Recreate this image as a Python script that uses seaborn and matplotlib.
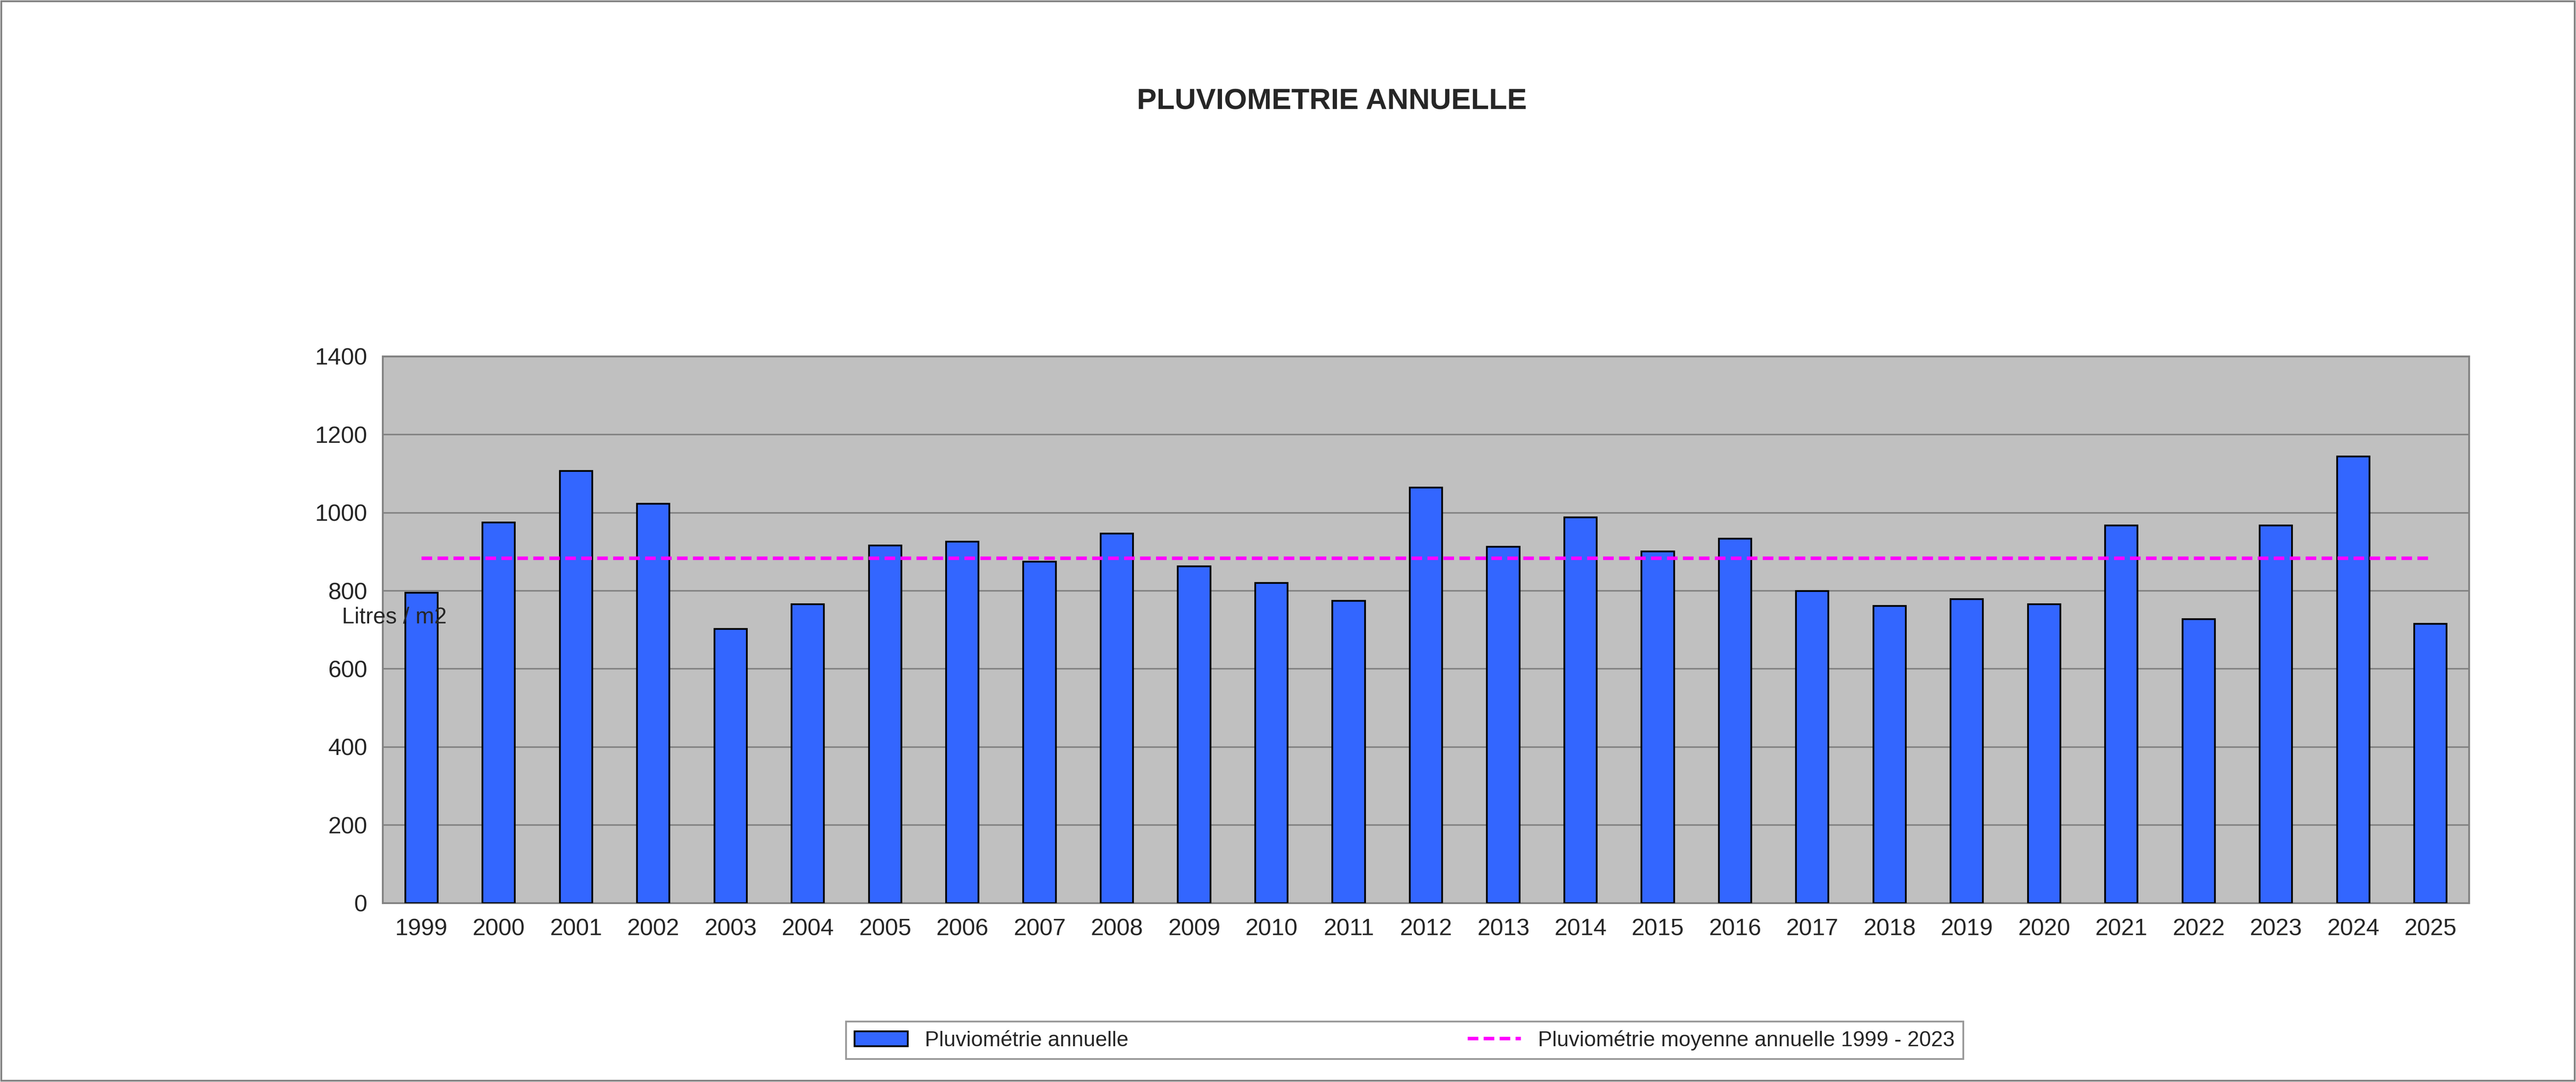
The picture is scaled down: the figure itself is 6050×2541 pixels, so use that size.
import matplotlib
matplotlib.use("Agg")
import matplotlib.pyplot as plt
import seaborn as sns
import pandas as pd
from matplotlib.patches import Patch, Rectangle
from matplotlib.lines import Line2D

years = [str(y) for y in range(1999, 2026)]
rain = [795, 975, 1106, 1022, 702, 765, 916, 925, 874, 946, 862, 820, 774, 1064,
        912, 988, 900, 933, 799, 761, 778, 765, 967, 727, 967, 1143, 715]
mean_rain = 883

df = pd.DataFrame({"year": years, "rain": rain})

sns.set_style("white")
plt.rcParams['font.family'] = ['Liberation Sans', 'DejaVu Sans']

fig = plt.figure(figsize=(60.5, 25.41), dpi=100)
ax = fig.add_axes([0.1486, 0.1654, 0.8099, 0.5053])
ax.set_facecolor("#C0C0C0")
sns.barplot(data=df, x="year", y="rain", ax=ax, color="#3366FF", width=0.42,
            edgecolor="black", linewidth=3, saturation=1, zorder=3)
ax.plot([0, len(years) - 1], [mean_rain, mean_rain], color="#FF00FF", lw=6,
        ls=(0, (3, 1.5)), zorder=4)
ax.set_ylim(0, 1400)
ax.set_xlim(-0.5, len(years) - 0.5)
ax.set_yticks(range(0, 1401, 200))
ax.yaxis.grid(True, color="#808080", lw=2.5, zorder=0)
ax.set_axisbelow(True)
for s in ax.spines.values():
    s.set_color("#808080"); s.set_linewidth(3)
ax.tick_params(axis="both", labelsize=40, length=12, width=3, color="#808080", pad=14)
ax.tick_params(axis="x", direction="out")
ax.set_xlabel(""); ax.set_ylabel("")

fig.text(0.517, 0.906, "PLUVIOMETRIE ANNUELLE", ha="center", va="center",
         fontsize=50, fontweight="bold")
fig.text(0.1327, 0.4294, "Litres / m2", ha="left", va="center", fontsize=38)

# figure border
fig.patches.append(Rectangle((0.0005, 0.001), 0.999, 0.998, transform=fig.transFigure,
                             fill=False, edgecolor="#808080", lw=3))
handles = [Patch(facecolor="#3366FF", edgecolor="black", linewidth=3),
           Line2D([0], [0], color="#FF00FF", lw=6, ls=(0, (3, 1.5)))]
leg = fig.legend(handles, ["Pluviométrie annuelle", "Pluviométrie moyenne annuelle 1999 - 2023"],
                 loc="center", bbox_to_anchor=(0.3284, 0.012, 0.4337, 0.053),
                 ncol=2, fontsize=36, frameon=True, fancybox=False,
                 columnspacing=6, handlelength=2.5, mode="expand", borderaxespad=0)
leg.get_frame().set_edgecolor("#808080"); leg.get_frame().set_linewidth(3)

fig.savefig("out.png", dpi=100)
